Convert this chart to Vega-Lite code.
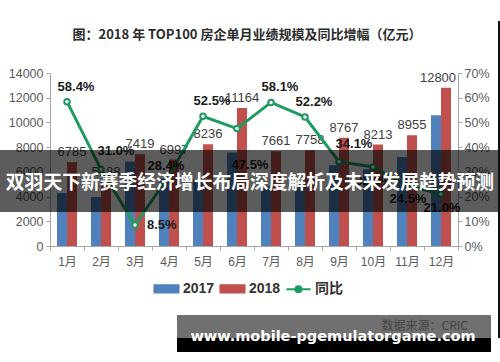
{
  "$schema": "https://vega.github.io/schema/vega-lite/v6.json",
  "width": 408,
  "height": 173,
  "autosize": {"type": "none"},
  "padding": {"left": 50, "top": 73, "right": 42, "bottom": 116},
  "background": "white",
  "title": {
    "text": "图：2018 年 TOP100 房企单月业绩规模及同比增幅（亿元）",
    "font": "Noto Sans CJK SC",
    "fontSize": 13,
    "fontWeight": "bold",
    "color": "#2b2b2b",
    "anchor": "middle",
    "frame": "group",
    "offset": -21,
    "dx": -7
  },
  "config": {
    "view": {"stroke": null},
    "axis": {
      "grid": false,
      "labelFont": "Liberation Sans, Noto Sans CJK SC",
      "labelFontSize": 12.5,
      "labelColor": "#595959",
      "domainColor": "#a6a6a6",
      "tickColor": "#a6a6a6",
      "tickSize": 4,
      "title": null
    }
  },
  "datasets": {
    "bars": [
      {"month": "1月", "series": "2017", "value": 4283},
      {"month": "1月", "series": "2018", "value": 6785},
      {"month": "2月", "series": "2017", "value": 3960},
      {"month": "2月", "series": "2018", "value": 5188},
      {"month": "3月", "series": "2017", "value": 6838},
      {"month": "3月", "series": "2018", "value": 7419},
      {"month": "4月", "series": "2017", "value": 5449},
      {"month": "4月", "series": "2018", "value": 6997},
      {"month": "5月", "series": "2017", "value": 5401},
      {"month": "5月", "series": "2018", "value": 8236},
      {"month": "6月", "series": "2017", "value": 7569},
      {"month": "6月", "series": "2018", "value": 11164},
      {"month": "7月", "series": "2017", "value": 4846},
      {"month": "7月", "series": "2018", "value": 7661},
      {"month": "8月", "series": "2017", "value": 5097},
      {"month": "8月", "series": "2018", "value": 7758},
      {"month": "9月", "series": "2017", "value": 6538},
      {"month": "9月", "series": "2018", "value": 8767},
      {"month": "10月", "series": "2017", "value": 6222},
      {"month": "10月", "series": "2018", "value": 8213},
      {"month": "11月", "series": "2017", "value": 7193},
      {"month": "11月", "series": "2018", "value": 8955},
      {"month": "12月", "series": "2017", "value": 10579},
      {"month": "12月", "series": "2018", "value": 12800}
    ],
    "yoy": [
      {"month": "1月", "yoy": 0.584},
      {"month": "2月", "yoy": 0.310},
      {"month": "3月", "yoy": 0.085},
      {"month": "4月", "yoy": 0.284},
      {"month": "5月", "yoy": 0.525},
      {"month": "6月", "yoy": 0.475},
      {"month": "7月", "yoy": 0.581},
      {"month": "8月", "yoy": 0.522},
      {"month": "9月", "yoy": 0.341},
      {"month": "10月", "yoy": 0.320},
      {"month": "11月", "yoy": 0.245},
      {"month": "12月", "yoy": 0.210}
    ],
    "banner": [{"label": "双羽天下新赛季经济增长布局深度解析及未来发展趋势预测"}],
    "site": [{"label": "www.mobile-pgemulatorgame.com", "source": "数据来源：CRIC"}]
  },
  "resolve": {"scale": {"y": "independent"}},
  "layer": [
    {
      "data": {"name": "bars"},
      "encoding": {
        "x": {
          "field": "month",
          "type": "ordinal",
          "scale": {"domain": ["1月","2月","3月","4月","5月","6月","7月","8月","9月","10月","11月","12月"], "paddingInner": 0, "paddingOuter": 0},
          "axis": {"labelAngle": 0, "tickBand": "extent", "labelPadding": 6, "labelFontSize": 12}
        },
        "xOffset": {"field": "series", "type": "nominal", "scale": {"paddingOuter": 0.7, "paddingInner": 0}},
        "y": {
          "field": "value",
          "type": "quantitative",
          "scale": {"domain": [0, 14000], "nice": false},
          "axis": {"orient": "left", "values": [0,2000,4000,6000,8000,10000,12000,14000], "format": "d", "labelPadding": 3}
        }
      },
      "layer": [
        {
          "mark": {"type": "bar"},
          "encoding": {
            "color": {
              "field": "series",
              "type": "nominal",
              "scale": {"domain": ["2017", "2018", "同比"], "range": ["#4f81bd", "#c0504d", "#1e9b5e"]},
              "legend": {
                "orient": "none",
                "legendX": 103,
                "legendY": 202,
                "direction": "horizontal",
                "title": null,
                "symbolSize": 580,
                "labelFont": "Liberation Sans, Noto Sans CJK SC",
                "labelFontSize": 14,
                "labelFontWeight": "bold",
                "labelColor": "#333333",
                "labelOffset": 3,
                "columnPadding": 1,
                "encode": {
                  "symbols": {
                    "update": {
                      "shape": {"signal": "datum.value === '同比' ? 'M-1,0H-0.25M0.25,0H1M0.25,0A0.25,0.25 0 1,1 -0.25,0A0.25,0.25 0 1,1 0.25,0' : 'M-1,-0.3H1V0.3H-1Z'"},
                      "fill": {"signal": "datum.value === '同比' ? 'white' : scale('color', datum.value)"},
                      "stroke": {"signal": "datum.value === '同比' ? scale('color', datum.value) : 'transparent'"},
                      "strokeWidth": {"value": 2},
                      "opacity": {"value": 1}
                    }
                  }
                }
              }
            }
          }
        },
        {
          "transform": [{"filter": "datum.series === '2018' && datum.month !== '12月'"}],
          "mark": {"type": "text", "baseline": "bottom", "dy": -3, "font": "Liberation Sans", "fontSize": 13, "color": "#404040"},
          "encoding": {"text": {"field": "value", "type": "quantitative", "format": "d"}}
        },
        {
          "transform": [{"filter": "datum.series === '2018' && datum.month === '12月'"}],
          "mark": {"type": "text", "baseline": "bottom", "dy": -3, "dx": -8, "font": "Liberation Sans", "fontSize": 13, "color": "#404040"},
          "encoding": {"text": {"field": "value", "type": "quantitative", "format": "d"}}
        }
      ]
    },
    {
      "data": {"name": "yoy"},
      "encoding": {
        "x": {
          "field": "month",
          "type": "ordinal",
          "scale": {"domain": ["1月","2月","3月","4月","5月","6月","7月","8月","9月","10月","11月","12月"], "paddingInner": 0, "paddingOuter": 0}
        },
        "y": {
          "field": "yoy",
          "type": "quantitative",
          "scale": {"domain": [0, 0.7], "nice": false},
          "axis": {"orient": "right", "values": [0,0.1,0.2,0.3,0.4,0.5,0.6,0.7], "format": ".0%", "labelPadding": 2}
        }
      },
      "layer": [
        {
          "mark": {"type": "line", "strokeWidth": 3},
          "encoding": {"color": {"datum": "同比"}}
        },
        {
          "mark": {"type": "point", "shape": "circle", "filled": true, "fill": "white", "stroke": "#1e9b5e", "strokeWidth": 2, "size": 30, "opacity": 1}
        },
        {
          "transform": [{"filter": {"field": "month", "oneOf": ["1月", "5月", "7月", "8月"]}}],
          "mark": {"type": "text", "dx": 9, "dy": -15, "font": "Liberation Sans", "fontSize": 13, "fontWeight": "bold", "color": "#1a1a1a"},
          "encoding": {"text": {"field": "yoy", "type": "quantitative", "format": ".1%"}}
        },
        {
          "transform": [{"filter": {"field": "month", "oneOf": ["2月", "9月"]}}],
          "mark": {"type": "text", "dx": 15, "dy": -18, "font": "Liberation Sans", "fontSize": 13, "fontWeight": "bold", "color": "#1a1a1a"},
          "encoding": {"text": {"field": "yoy", "type": "quantitative", "format": ".1%"}}
        },
        {
          "transform": [{"filter": {"field": "month", "oneOf": ["3月"]}}],
          "mark": {"type": "text", "align": "left", "dx": 12, "dy": 0, "font": "Liberation Sans", "fontSize": 13, "fontWeight": "bold", "color": "#1a1a1a"},
          "encoding": {"text": {"field": "yoy", "type": "quantitative", "format": ".1%"}}
        },
        {
          "transform": [{"filter": {"field": "month", "oneOf": ["4月"]}}],
          "mark": {"type": "text", "dx": -3, "dy": -10, "font": "Liberation Sans", "fontSize": 13, "fontWeight": "bold", "color": "#1a1a1a"},
          "encoding": {"text": {"field": "yoy", "type": "quantitative", "format": ".1%"}}
        },
        {
          "transform": [{"filter": {"field": "month", "oneOf": ["6月"]}}],
          "mark": {"type": "text", "dx": 13, "dy": 36, "font": "Liberation Sans", "fontSize": 13, "fontWeight": "bold", "color": "#1a1a1a"},
          "encoding": {"text": {"field": "yoy", "type": "quantitative", "format": ".1%"}}
        },
        {
          "transform": [{"filter": {"field": "month", "oneOf": ["10月", "11月", "12月"]}}],
          "mark": {"type": "text", "dx": 1, "dy": 14, "font": "Liberation Sans", "fontSize": 13, "fontWeight": "bold", "color": "#1a1a1a"},
          "encoding": {"text": {"field": "yoy", "type": "quantitative", "format": ".1%"}}
        }
      ]
    },
    {
      "data": {"name": "banner"},
      "mark": {"type": "rect", "fill": "black", "opacity": 0.64},
      "encoding": {"x": {"value": -50}, "x2": {"value": 450}, "y": {"value": 77}, "y2": {"value": 139}}
    },
    {
      "data": {"name": "banner"},
      "mark": {"type": "text", "font": "Noto Sans CJK SC", "fontWeight": "bold", "fontSize": 18.8, "color": "white", "align": "center", "baseline": "middle"},
      "encoding": {"x": {"value": 200}, "y": {"value": 110}, "text": {"field": "label"}}
    },
    {
      "data": {"name": "site"},
      "mark": {"type": "rect", "fill": "black", "opacity": 0.56},
      "encoding": {"x": {"value": 127}, "x2": {"value": 441}, "y": {"value": 242}, "y2": {"value": 265}}
    },
    {
      "data": {"name": "site"},
      "mark": {"type": "rect", "fill": "black"},
      "encoding": {"x": {"value": 127}, "x2": {"value": 441}, "y": {"value": 265}, "y2": {"value": 279}}
    },
    {
      "data": {"name": "site"},
      "mark": {"type": "rect", "fill": "#111111"},
      "encoding": {"x": {"value": 448}, "x2": {"value": 450}, "y": {"value": -52}, "y2": {"value": 265}}
    },
    {
      "data": {"name": "site"},
      "mark": {"type": "text", "font": "Noto Sans CJK SC", "fontSize": 12, "color": "#444444", "align": "right", "baseline": "middle"},
      "encoding": {"x": {"value": 418}, "y": {"value": 253}, "text": {"field": "source"}}
    },
    {
      "data": {"name": "site"},
      "mark": {"type": "text", "font": "DejaVu Sans", "fontWeight": "bold", "fontSize": 14.5, "color": "white", "align": "center", "baseline": "alphabetic"},
      "encoding": {"x": {"value": 283}, "y": {"value": 268}, "text": {"field": "label"}}
    }
  ]
}
